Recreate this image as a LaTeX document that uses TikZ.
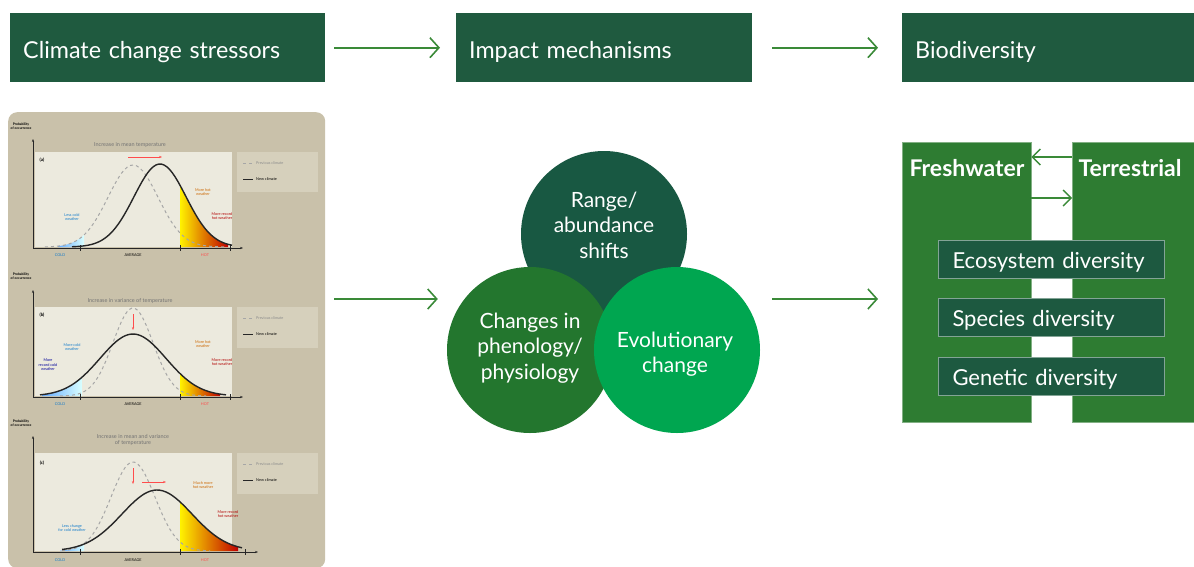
\documentclass[tikz,border=0pt]{standalone}
\usepackage{fontspec}
\setmainfont{Lato}
\usetikzlibrary{arrows.meta,positioning}

\definecolor{headgreen}{RGB}{31,90,63}
\definecolor{arrowgreen}{RGB}{58,138,56}
\definecolor{rangegreen}{RGB}{24,88,66}
\definecolor{changegreen}{RGB}{35,118,46}
\definecolor{evogreen}{RGB}{0,166,80}
\definecolor{blockgreen}{RGB}{46,124,50}
\definecolor{divgreen}{RGB}{29,89,64}
\definecolor{panelbg}{RGB}{201,193,170}
\definecolor{plotbg}{RGB}{236,234,222}
\definecolor{legbg}{RGB}{214,208,188}

\tikzset{declare function={gss(\u,\m,\s,\h)=\h*exp(-0.5*((\u-\m)/\s)*((\u-\m)/\s));}}

\begin{document}
\begin{tikzpicture}[x=1pt, y=-1pt,
    head/.style = {fill=headgreen, text=white, anchor=north west, minimum height=69pt,
        inner xsep=13pt, align=left, text height=23pt, text depth=2pt,
        font=\fontsize{23.3}{26}\selectfont},
    ar/.style = {draw=arrowgreen, line width=1.6pt, -{Straight Barb[length=9pt, width=20pt]}},
    ars/.style = {draw=arrowgreen, line width=1.4pt, -{Straight Barb[length=8pt, width=16pt]}},
    circ/.style = {circle, minimum size=166pt, inner sep=0pt},
    circtext/.style = {text=white, align=center, inner sep=0pt, font=\fontsize{21}{25.5}\selectfont},
    block/.style = {fill=blockgreen, draw=blockgreen!60!white, line width=.4pt, anchor=north west},
    blocklab/.style = {text=white, font=\bfseries\fontsize{23}{25}\selectfont},
    divbox/.style = {fill=divgreen, draw=divgreen!55!white, line width=.5pt, text=white,
        minimum width=226pt, minimum height=38pt, text width=197pt, inner xsep=14.5pt,
        text height=20pt, text depth=2pt, align=left, font=\fontsize{22}{24}\selectfont},
    panelbox/.style = {fill=panelbg, rounded corners=9pt, anchor=north west},
    tiny/.style = {inner sep=0pt, font=\fontsize{3.8}{4.4}\selectfont, align=center},
    prev/.style = {draw=black!35, dashed, line width=1pt},
    new/.style = {draw=black!85, line width=1.4pt},
    axis/.style = {draw=black!85, line width=.8pt, -{Stealth[length=3pt]}},
    hot/.style = {left color=yellow!90!orange, right color=red!75!black},
    cold/.style = {left color=blue!55!cyan!60, right color=cyan!15}]

    \useasboundingbox (0,0) rectangle (1194,566);

    % top row
    \node[head, text width=289pt] (stress) at (10,13) {Climate change stressors};
    \node[head, text width=270pt] (impact) at (456,13) {Impact mechanisms};
    \node[head, text width=266pt] (biodiv) at (902,13) {Biodiversity};

    \draw[ar, shorten <=9pt, shorten >=16pt] (stress) -- (impact);
    \draw[ar, shorten <=20pt, shorten >=24pt] (impact) -- (biodiv);

    % stressor figure
    \node[panelbox, minimum width=317pt, minimum height=456pt] (panel) at (8,112) {};

    \begin{scope}[shift={(0,112)}]
        \fill[plotbg] (35,40) rectangle (232,135);
        \fill[legbg] (237,40) rectangle (318,80);
        \shade[cold] (58,135) -- plot[domain=58:84] (\x,{135-gss(\x,133,25,82)}) -- (84,135) -- cycle;
        \shade[hot] (180,135) -- plot[domain=180:228] (\x,{135-gss(\x,160,26,83)}) -- (228,135) -- cycle;
        \draw[prev] plot[domain=45:225, samples=60] (\x,{135-gss(\x,133,25,82)});
        \draw[new] plot[domain=72:232, samples=60] (\x,{135-gss(\x,160,26,83)});
        \draw[axis] (33,136) -- (33,27);
        \draw[axis] (33,136) -- (243,136);
        \foreach \t in {80,180,230} \draw[black!85, line width=.6pt] (\t,133) -- (\t,139);
        \draw[-{Stealth[length=3pt]}, line width=1pt, red!70] (128,45) -- (162,45);
        \node[tiny, font=\bfseries\fontsize{3.4}{3.8}\selectfont] (pa) at (21,14) {Probability\\of occurrence};
        \node[tiny, font=\fontsize{5.5}{6}\selectfont, text=black!55] (ta) at (130,33) {Increase in mean temperature};
        \node[tiny, font=\bfseries\fontsize{4.5}{5}\selectfont] (la) at (42,48) {(a)};
        \node[tiny, text=cyan!60!blue] (ca) at (72,105) {Less cold\\weather};
        \node[tiny, text=orange!80!black] (ha) at (203,80) {More hot\\weather};
        \node[tiny, text=red!70!black] (ra) at (222,104) {More record\\hot weather};
        \node[tiny, text=cyan!60!blue] (xa1) at (60,143) {COLD};
        \node[tiny] (xa2) at (133,143) {AVERAGE};
        \node[tiny, text=red!70] (xa3) at (205,143) {HOT};
        \draw[prev, line width=.6pt] (243,51) -- (253,51);
        \node[tiny, anchor=west, text=black!45] (lpa) at (256,51) {Previous climate};
        \draw[new, line width=.8pt] (243,67) -- (253,67);
        \node[tiny, anchor=west] (lna) at (256,67) {New climate};
    \end{scope}

    \begin{scope}[shift={(0,262)}]
        \fill[plotbg] (35,45) rectangle (232,134);
        \fill[legbg] (237,45) rectangle (318,86);
        \shade[cold] (42,134) -- plot[domain=42:82] (\x,{134-gss(\x,133,33,62)}) -- (82,134) -- cycle;
        \shade[hot] (180,134) -- plot[domain=180:220] (\x,{134-gss(\x,133,33,62)}) -- (220,134) -- cycle;
        \draw[prev] plot[domain=60:206, samples=60] (\x,{134-gss(\x,133,20,88)});
        \draw[new] plot[domain=40:226, samples=60] (\x,{134-gss(\x,133,33,62)});
        \draw[axis] (33,135) -- (33,28);
        \draw[axis] (33,135) -- (243,135);
        \foreach \t in {80,180,230} \draw[black!85, line width=.6pt] (\t,132) -- (\t,138);
        \draw[-{Stealth[length=3pt]}, line width=1pt, red!70] (133,52) -- (133,68);
        \node[tiny, font=\bfseries\fontsize{3.4}{3.8}\selectfont] (pb) at (21,14) {Probability\\of occurrence};
        \node[tiny, font=\fontsize{5.5}{6}\selectfont, text=black!55] (tb) at (130,39) {Increase in variance of temperature};
        \node[tiny, font=\bfseries\fontsize{4.5}{5}\selectfont] (lb) at (42,53) {(b)};
        \node[tiny, text=blue!60!black] (cb1) at (48,103) {More\\record cold\\weather};
        \node[tiny, text=cyan!60!blue] (cb2) at (72,85) {More cold\\weather};
        \node[tiny, text=orange!80!black] (hb) at (203,82) {More hot\\weather};
        \node[tiny, text=red!70!black] (rb) at (222,100) {More record\\hot weather};
        \node[tiny, text=cyan!60!blue] (xb1) at (60,142) {COLD};
        \node[tiny] (xb2) at (133,142) {AVERAGE};
        \node[tiny, text=red!70] (xb3) at (205,142) {HOT};
        \draw[prev, line width=.6pt] (243,56) -- (253,56);
        \node[tiny, anchor=west, text=black!45] (lpb) at (256,56) {Previous climate};
        \draw[new, line width=.8pt] (243,72) -- (253,72);
        \node[tiny, anchor=west] (lnb) at (256,72) {New climate};
    \end{scope}

    \begin{scope}[shift={(0,410)}]
        \fill[plotbg] (35,43) rectangle (232,141);
        \fill[legbg] (237,43) rectangle (318,84);
        \shade[cold] (60,141) -- plot[domain=60:84] (\x,{141-gss(\x,133,22,89)}) -- (84,141) -- cycle;
        \shade[hot] (180,141) -- plot[domain=180:238] (\x,{141-gss(\x,157,35,61)}) -- (238,141) -- cycle;
        \draw[prev] plot[domain=62:210, samples=60] (\x,{141-gss(\x,133,22,89)});
        \draw[new] plot[domain=62:242, samples=60] (\x,{141-gss(\x,157,35,61)});
        \draw[axis] (33,142) -- (33,26);
        \draw[axis] (33,142) -- (258,142);
        \foreach \t in {80,180,245} \draw[black!85, line width=.6pt] (\t,139) -- (\t,145);
        \draw[-{Stealth[length=3pt]}, line width=1pt, red!70] (133,58) -- (133,74);
        \draw[-{Stealth[length=3pt]}, line width=1pt, red!70] (142,72) -- (166,72);
        \node[tiny, font=\bfseries\fontsize{3.4}{3.8}\selectfont] (pc) at (21,13) {Probability\\of occurrence};
        \node[tiny, font=\fontsize{5.5}{6.5}\selectfont, text=black!55] (tc) at (133,30) {Increase in mean and variance\\of temperature};
        \node[tiny, font=\bfseries\fontsize{4.5}{5}\selectfont] (lc) at (42,53) {(c)};
        \node[tiny, text=cyan!60!blue] (cc) at (72,118) {Less change\\for cold weather};
        \node[tiny, text=orange!80!black] (hc) at (203,75) {Much more\\hot weather};
        \node[tiny, text=red!70!black] (rc) at (228,104) {More record\\hot weather};
        \node[tiny, text=cyan!60!blue] (xc1) at (60,150) {COLD};
        \node[tiny] (xc2) at (133,150) {AVERAGE};
        \node[tiny, text=red!70] (xc3) at (205,150) {HOT};
        \draw[prev, line width=.6pt] (243,54) -- (253,54);
        \node[tiny, anchor=west, text=black!45] (lpc) at (256,54) {Previous climate};
        \draw[new, line width=.8pt] (243,70) -- (253,70);
        \node[tiny, anchor=west] (lnc) at (256,70) {New climate};
    \end{scope}

    % mechanisms
    \node[circ, fill=rangegreen] (range) at (604,234) {};
    \node[circ, fill=changegreen] (changes) at (530,350) {};
    \node[circ, fill=evogreen] (evo) at (677,350) {};
    \node[circtext] (rangetext) at (604,225) {Range/\\abundance\\shifts};
    \node[circtext] (changestext) at (530,348) {Changes in\\phenology/\\physiology};
    \node[circtext] (evotext) at (675,354) {Evolutionary\\change};

    \coordinate (midrow) at (0,299);
    \draw[ar, shorten <=9pt, shorten >=9pt] (panel.east |- midrow) -- (changes.west |- midrow);

    % biodiversity
    \node[block, minimum width=129pt, minimum height=280pt] (fresh) at (902,142) {};
    \node[block, minimum width=130pt, minimum height=280pt] (terr) at (1072,142) {};
    \node[blocklab] (freshlab) at (967,168) {Freshwater};
    \node[blocklab] (terrlab) at (1130,168) {Terrestrial};

    \draw[ar, shorten <=12pt, shorten >=24pt] (evo.east |- midrow) -- (fresh.west |- midrow);

    \coordinate (back) at (0,157);
    \coordinate (forth) at (0,198);
    \draw[ars] (terr.west |- back) -- (fresh.east |- back);
    \draw[ars] (fresh.east |- forth) -- (terr.west |- forth);

    \node[divbox] (eco) at (1051,259) {Ecosystem diversity};
    \node[divbox] (species) at (1051,317) {Species diversity};
    \node[divbox] (genetic) at (1051,376) {Genetic diversity};
\end{tikzpicture}
\end{document}
